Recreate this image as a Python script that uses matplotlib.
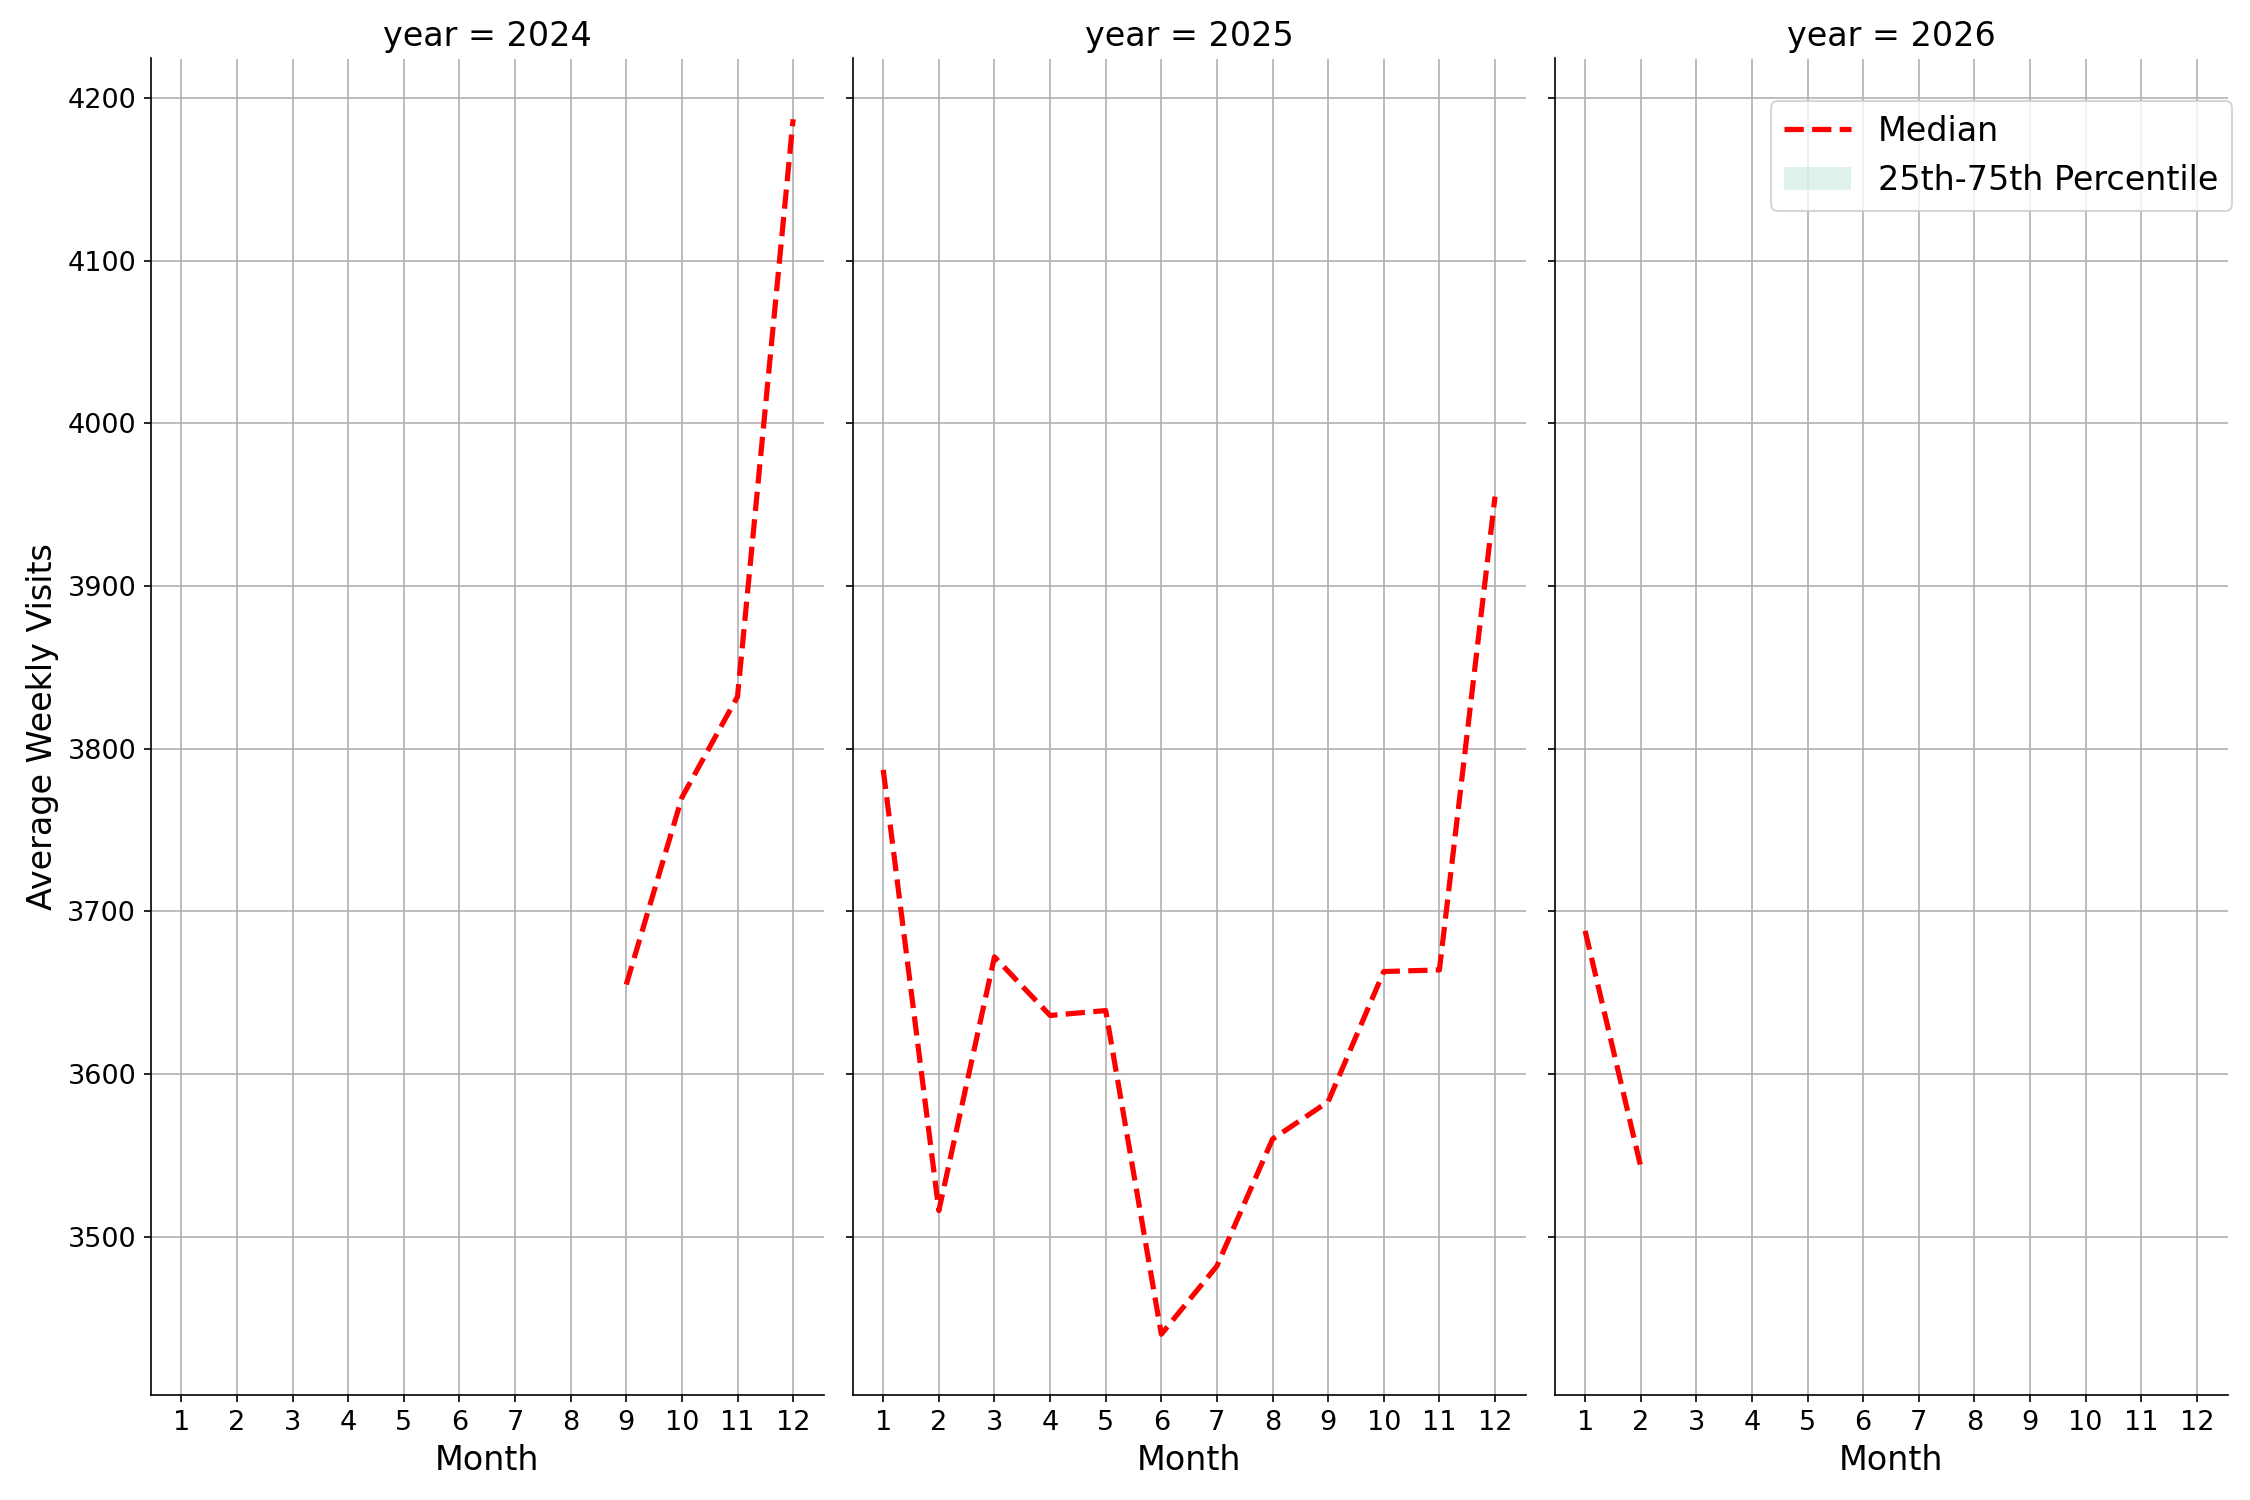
import numpy as np
import matplotlib
matplotlib.use("Agg")
import matplotlib.pyplot as plt
from matplotlib.patches import Patch

years = [2024, 2025, 2026]
months_2024 = [9, 10, 11, 12]
median_2024 = [3655, 3770, 3832, 4187]
months_2025 = [1, 2, 3, 4, 5, 6, 7, 8, 9, 10, 11, 12]
median_2025 = [3787, 3516, 3672, 3636, 3639, 3440, 3482, 3560, 3583, 3663, 3664, 3955]
months_2026 = [1, 2]
median_2026 = [3688, 3543]

data = {
    2024: (months_2024, median_2024),
    2025: (months_2025, median_2025),
    2026: (months_2026, median_2026),
}

band_color = "#66c2a5"

fig, axes = plt.subplots(1, 3, figsize=(15, 10), dpi=150, sharex=True, sharey=True)
fig.subplots_adjust(left=0.067, right=0.99, top=0.961, bottom=0.07, wspace=0.043)

for ax, yr in zip(axes, years):
    m, med = data[yr]
    ax.plot(m, med, color="red", linestyle="--", linewidth=2.5, label="Median")
    ax.set_title(f"year = {yr}", fontsize=16)
    ax.set_xlabel("Month", fontsize=16)
    ax.set_xticks(range(1, 13))
    ax.tick_params(labelsize=13)
    ax.grid(True, color="#b0b0b0", linewidth=0.8)
    ax.set_axisbelow(True)
    ax.spines["top"].set_visible(False)
    ax.spines["right"].set_visible(False)

axes[0].set_xlim(0.45, 12.55)
axes[0].set_ylabel("Average Weekly Visits", fontsize=16)

handles = [
    plt.Line2D([], [], color="red", linestyle="--", linewidth=2.5),
    Patch(facecolor=band_color, alpha=0.2, edgecolor="none"),
]
axes[2].legend(handles, ["Median", "25th-75th Percentile"], fontsize=16,
               loc="upper right", bbox_to_anchor=(1.006, 0.968), borderaxespad=0)

fig.savefig("out.png", dpi=150)
